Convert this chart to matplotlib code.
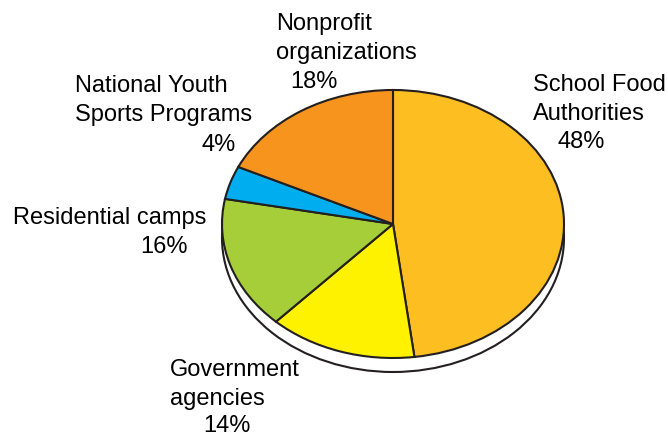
import matplotlib
matplotlib.use("Agg")
import matplotlib.pyplot as plt
from matplotlib.patches import Ellipse

plt.rcParams['font.family'] = ['Liberation Sans', 'DejaVu Sans']

# Data (clockwise from 12 o'clock)
categories = ['School Food\nAuthorities', 'Government\nagencies', 'Residential camps',
              'National Youth\nSports Programs', 'Nonprofit\norganizations']
shares = [48, 14, 16, 4, 18]
colors = ['#FDBE22', '#FFF200', '#A6CE39', '#00AEEF', '#F7941E']

# label layout: (name x, name baseline y, pct x, pct baseline y) in pixels from top-left
label_pos = [
    (533, 91, 558, 148),
    (170, 376, 203, 432),
    (13, 224, 140, 253),
    (75, 92, 202, 151),
    (276, 30, 290, 88),
]

W, H = 668, 436
cx, cy, rx, ry = 393, 224, 171, 134  # pie ellipse in pixels
shadow_drop = 14

fig = plt.figure(figsize=(W / 100, H / 100), dpi=100)
ax = fig.add_axes([0, 0, 1, 1])

edge = '#231F20'
ax.add_patch(Ellipse((0, -shadow_drop / ry), 2, 2, facecolor='white',
                     edgecolor=edge, linewidth=1.5, zorder=0))
wedges, _ = ax.pie(shares, colors=colors, startangle=90, counterclock=False,
                   wedgeprops=dict(edgecolor=edge, linewidth=1.5))
for w in wedges:
    w.set_zorder(1)

ax.set_aspect('auto')
ax.set_xlim(-cx / rx, (W - cx) / rx)
ax.set_ylim(-(H - cy) / ry, cy / ry)
ax.axis('off')

fs = 17
line_gap = 29
for name, share, (nx, ny, px, py) in zip(categories, shares, label_pos):
    for i, line in enumerate(name.split('\n')):
        ax.text(nx / W, 1 - (ny + i * line_gap) / H, line, transform=ax.transAxes,
                ha='left', va='baseline', fontsize=fs, color='black')
    ax.text(px / W, 1 - py / H, f'{share}%', transform=ax.transAxes,
            ha='left', va='baseline', fontsize=fs, color='black')

fig.savefig('out.png', dpi=100)
